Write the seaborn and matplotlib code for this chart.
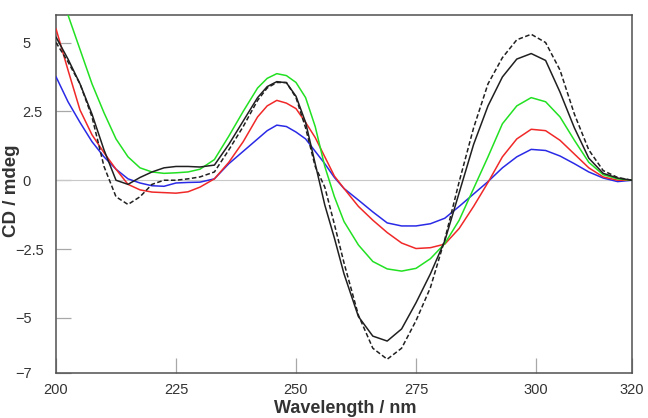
import numpy as np
import matplotlib
matplotlib.use("Agg")
import matplotlib.pyplot as plt
import seaborn as sns
import pandas as pd

# wavelength grid (nm)
wavelength = [200, 202.5, 205, 207.5, 210, 212.5, 215, 217.5, 220, 222.5,
              225, 227.5, 230, 233, 236, 239, 242, 244, 246, 248,
              250, 252, 254, 256, 258, 260, 263, 266, 269, 272,
              275, 278, 281, 284, 287, 290, 293, 296, 299, 302,
              305, 308, 311, 314, 317, 320]

cd_black = [5.2, 4.4, 3.5, 2.4, 1.1, 0.0, -0.15, 0.1, 0.3, 0.45,
            0.5, 0.5, 0.48, 0.55, 1.3, 2.15, 3.0, 3.4, 3.58, 3.54,
            3.05, 2.1, 0.6, -0.9, -2.1, -3.4, -4.95, -5.66, -5.84, -5.4,
            -4.45, -3.4, -2.2, -0.45, 1.3, 2.7, 3.75, 4.4, 4.6, 4.35,
            3.2, 1.9, 0.8, 0.25, 0.08, 0.0]

cd_black_dashed = [5.0, 4.3, 3.5, 2.3, 0.5, -0.6, -0.88, -0.6, -0.15, 0.0,
                   0.0, 0.05, 0.12, 0.3, 1.1, 1.95, 2.9, 3.35, 3.55, 3.55,
                   3.0, 1.9, 0.5, -0.25, -1.6, -3.0, -4.9, -6.1, -6.5, -6.1,
                   -5.1, -3.9, -2.15, -0.05, 1.9, 3.5, 4.45, 5.1, 5.3, 5.0,
                   4.0, 2.4, 1.1, 0.35, 0.1, 0.0]

cd_green = [7.2, 6.0, 4.75, 3.5, 2.45, 1.5, 0.85, 0.45, 0.3, 0.25,
            0.27, 0.3, 0.4, 0.75, 1.6, 2.5, 3.35, 3.7, 3.87, 3.8,
            3.55, 3.0, 1.95, 0.5, -0.6, -1.5, -2.35, -2.95, -3.22, -3.3,
            -3.2, -2.85, -2.3, -1.45, -0.3, 0.85, 2.05, 2.7, 3.0, 2.85,
            2.3, 1.45, 0.65, 0.2, 0.05, 0.0]

cd_red = [5.5, 4.0, 2.55, 1.65, 1.0, 0.4, -0.15, -0.35, -0.43, -0.45,
          -0.47, -0.42, -0.25, 0.05, 0.65, 1.4, 2.3, 2.7, 2.9, 2.8,
          2.6, 2.1, 1.55, 0.85, 0.15, -0.3, -0.95, -1.45, -1.9, -2.28,
          -2.48, -2.45, -2.32, -1.75, -0.95, -0.08, 0.85, 1.5, 1.85, 1.8,
          1.45, 0.95, 0.45, 0.12, 0.0, 0.0]

cd_blue = [3.76, 2.85, 2.1, 1.4, 0.85, 0.4, 0.05, -0.1, -0.2, -0.22,
           -0.1, -0.08, -0.07, 0.05, 0.6, 1.05, 1.5, 1.8, 2.0, 1.95,
           1.75, 1.5, 1.05, 0.6, 0.1, -0.3, -0.72, -1.15, -1.55, -1.66,
           -1.66, -1.58, -1.38, -0.95, -0.5, -0.05, 0.45, 0.85, 1.12, 1.08,
           0.88, 0.6, 0.3, 0.08, -0.05, 0.0]

x_ticks = [200, 225, 250, 275, 300, 320]
y_ticks = [5, 2.5, 0, -2.5, -5, -7]
y_tick_labels = ["5", "2.5", "0", "\u22122.5", "\u22125", "\u22127"]

sns.set_theme(style="white")
plt.rcParams['font.family'] = ['Liberation Sans', 'DejaVu Sans']

fig = plt.figure(figsize=(6.48, 4.18), dpi=100)
ax = fig.add_axes([56 / 648, 1 - 373 / 418, 576 / 648, 358 / 418])

ax.axhline(0, color="#c8c8c8", lw=0.8, zorder=1)

series = [
    (cd_blue, "#2a2ae6", "-"),
    (cd_red, "#f02828", "-"),
    (cd_green, "#22e022", "-"),
    (cd_black_dashed, "#202020", (0, (3, 1.6))),
    (cd_black, "#202020", "-"),
]
for vals, col, ls in series:
    df = pd.DataFrame({"wl": wavelength, "cd": vals})
    sns.lineplot(data=df, x="wl", y="cd", color=col, lw=1.1,
                 linestyle=ls, ax=ax, zorder=3)

ax.set_xlim(200, 320)
ax.set_ylim(-7, 6)
ax.set_xticks(x_ticks)
ax.set_xticklabels([str(t) for t in x_ticks])
ax.set_yticks(y_ticks)
ax.set_yticklabels(y_tick_labels)

ax.tick_params(axis="both", direction="in", length=11, width=0.9,
               color="#a8a8a8", labelsize=10.5, labelcolor="#333333",
               bottom=True, left=True, top=False, right=False)
ax.tick_params(axis="x", pad=7)
ax.tick_params(axis="y", pad=24)
for tick, lab in zip(ax.yaxis.get_major_ticks(), y_tick_labels):
    tick.label1.set_horizontalalignment("left")
    if lab.startswith("\u2212"):
        tick.label1.set_x(-7 / 576)

for sp in ax.spines.values():
    sp.set_color("#505050")
    sp.set_linewidth(1.1)
    sp.set_visible(True)

ax.set_xlabel("Wavelength / nm", fontsize=13, fontweight="bold", color="#333333")
ax.set_ylabel("CD / mdeg", fontsize=13.5, fontweight="bold", color="#333333")
ax.xaxis.set_label_coords(0.502, -0.075)
ax.yaxis.set_label_coords(-0.062, 0.51)

fig.savefig("out.png", dpi=100)
